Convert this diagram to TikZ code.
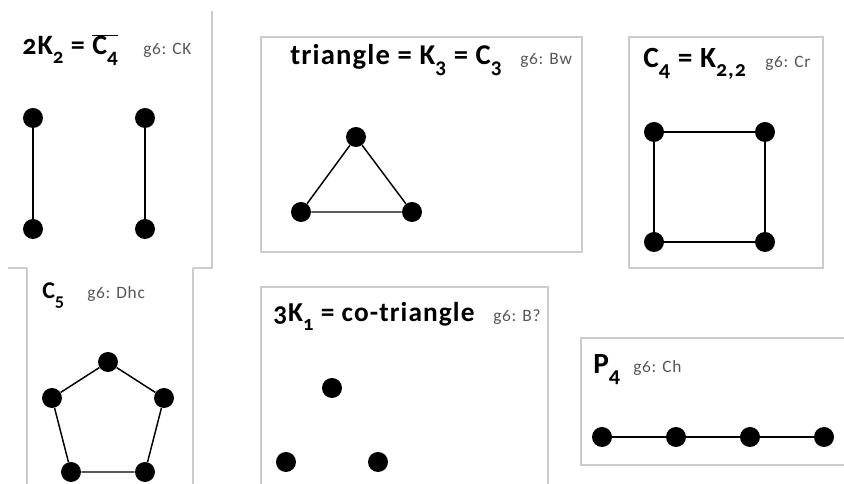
\documentclass[tikz,border=0pt]{standalone}
\usepackage{graphicx}
\usepackage{fontspec}
\setmainfont{Carlito}[Numbers=OldStyle]
\usetikzlibrary{positioning}
\definecolor{boxgray}{RGB}{204,204,204}
\definecolor{codegray}{RGB}{85,85,85}
\newcommand{\gsub}[1]{\raisebox{-0.3em}{\scalebox{0.75}{#1}}}

\begin{document}
\begin{tikzpicture}[x=0.75pt,y=-0.75pt,
    vtx/.style={circle,fill=black,inner sep=0pt,minimum size=15pt},
    edge/.style={line width=1.1pt},
    rule/.style={draw=boxgray,line width=0.8pt},
    frame/.style={rule,fill=white},
    title/.style={anchor=base west,inner sep=0pt,
      font=\bfseries\fontsize{#1}{#1}\selectfont\addfontfeature{LetterSpace=4}},
    title/.default=20,
    code/.style={anchor=base west,inner sep=0pt,text=codegray,
      font=\fontsize{13}{15}\selectfont\addfontfeature{LetterSpace=4}}]
    \useasboundingbox (0,0) rectangle (844,484);

    % 2K_2 frame, cut by the page
    \draw[rule] (212,11) -- (212,268) -- (193,268);
    \draw[rule] (8,268) -- (27,268);
    \node[title=21] (t1) at (22,55) {2K\gsub{2} = $\overline{\hbox{C\gsub{4}}}$};
    \node[code] (g1) at (143,55) {g6: CK};
    \node[vtx] (a1) at (33,118) {};
    \node[vtx] (a2) at (33,229) {};
    \node[vtx] (a3) at (145,118) {};
    \node[vtx] (a4) at (145,229) {};
    \draw[edge] (a1) -- (a2);
    \draw[edge] (a3) -- (a4);

    % Triangle
    \draw[frame] (261,37) rectangle (582,252);
    \node[title=21.5] (t2) at (290,65) {triangle = K\gsub{3} = C\gsub{3}};
    \node[code] (g2) at (520,65) {g6: Bw};
    \node[vtx] (b1) at (356,137) {};
    \node[vtx] (b2) at (301,212) {};
    \node[vtx] (b3) at (412,212) {};
    \draw[edge] (b1) -- (b2) -- (b3) -- (b1);

    % C_4 square
    \draw[frame] (629,37) rectangle (823,268);
    \node[title=22] (t3) at (643,68) {C\gsub{4} = K\gsub{2,2}};
    \node[code] (g3) at (765,68) {g6: Cr};
    \node[vtx] (c1) at (654,132) {};
    \node[vtx] (c2) at (765,132) {};
    \node[vtx] (c3) at (765,242) {};
    \node[vtx] (c4) at (654,242) {};
    \draw[edge] (c1) -- (c2) -- (c3) -- (c4) -- (c1);

    % C_5 pentagon, frame runs off the page
    \draw[rule] (27,268) -- (27,490);
    \draw[rule] (193,268) -- (193,490);
    \node[title=18] (t4) at (42,299) {C\gsub{5}};
    \node[code] (g4) at (87,299) {g6: Dhc};
    \node[vtx] (d1) at (108,362) {};
    \node[vtx] (d2) at (164,398) {};
    \node[vtx] (d3) at (145,472) {};
    \node[vtx] (d4) at (71,472) {};
    \node[vtx] (d5) at (52,398) {};
    \draw[edge] (d1) -- (d2) -- (d3) -- (d4) -- (d5) -- (d1);

    % 3K_1, no edges
    \draw[frame] (261,287) rectangle (548,490);
    \node[title=20.5] (t5) at (273,322) {3K\gsub{1} = co-triangle};
    \node[code] (g5) at (493,322) {g6: B?};
    \node[vtx] (e1) at (332,388) {};
    \node[vtx] (e2) at (286,462) {};
    \node[vtx] (e3) at (378,462) {};

    % P_4 path
    \draw[frame] (581,338) rectangle (850,465);
    \node[title=22] (t6) at (593,374) {P\gsub{4}};
    \node[code] (g6) at (633,373) {g6: Ch};
    \node[vtx] (f1) at (602,437) {};
    \node[vtx] (f2) at (676,437) {};
    \node[vtx] (f3) at (750,437) {};
    \node[vtx] (f4) at (824,437) {};
    \draw[edge] (f1) -- (f2) -- (f3) -- (f4);
\end{tikzpicture}
\end{document}
